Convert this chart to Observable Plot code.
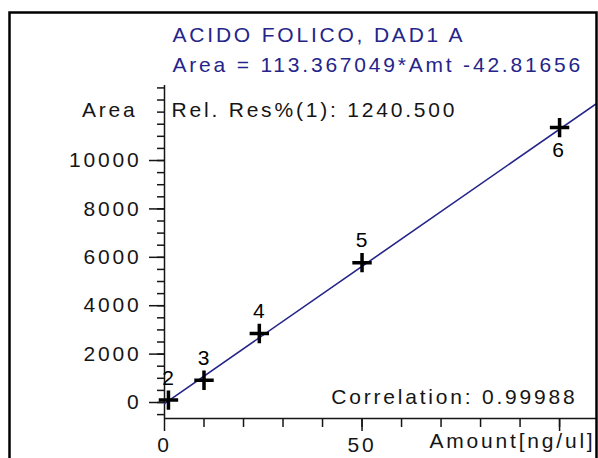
<!DOCTYPE html>
<html>
<head>
<meta charset="utf-8">
<script src="https://cdn.jsdelivr.net/npm/d3@7"></script>
<script src="https://cdn.jsdelivr.net/npm/@observablehq/plot@0.6"></script>
<style>
  html, body { margin: 0; padding: 0; background: #fff; }
  #chart { width: 598px; height: 458px; overflow: hidden; }
</style>
</head>
<body>
<div id="chart"></div>
<script>
// ---- data ----
const amounts = [1, 10, 24, 50, 100];          // Amount [ng/ul]
const areas = [100, 920, 2850, 5780, 11360];   // Area
const pointLabels = ["2", "3", "4", "5", "6"];
const yTickValues = [0, 2000, 4000, 6000, 8000, 10000];
const xTickValues = [0, 50, 100];
const xTickLabels = ["0", "50", ""];
const slope = 113.367049;
const intercept = -42.81656;
const titleLine1 = "ACIDO FOLICO, DAD1 A";
const titleLine2 = "Area = 113.367049*Amt -42.81656";
const relResText = "Rel. Res%(1): 1240.500";
const correlationText = "Correlation: 0.99988";
const xAxisTitle = "Amount[ng/ul]";
const yAxisTitle = "Area";

const xDomain = [0, 109.6];
const yDomain = [-661, 13100];

const points = amounts.map((a, i) => ({amount: a, area: areas[i], label: pointLabels[i]}));
const fitLine = xDomain.map(a => ({amount: a, area: slope * a + intercept}));
const lastLabel = pointLabels[pointLabels.length - 1];

const navy = "#24248a";
const ink = "#151515";
const fontStyle = {fontFamily: "'Liberation Sans', Arial, sans-serif", fontSize: 21};

const chart = Plot.plot({
  width: 598,
  height: 458,
  marginLeft: 164,
  marginRight: 1,
  marginTop: 85,
  marginBottom: 40,
  x: {domain: xDomain},
  y: {domain: yDomain},
  style: {fontFamily: "'Liberation Sans', Arial, sans-serif", fontSize: "21px", color: ink, background: "#fff", letterSpacing: "2.8px", overflow: "visible"},
  marks: [
    // minor ticks
    Plot.axisY(d3.range(-500, 13001, 500), {tickSize: 7, tickFormat: () => "", label: null, stroke: ink, strokeWidth: 1.5}),
    Plot.axisX(d3.range(10, 110, 10), {tickSize: 9, tickFormat: () => "", label: null, stroke: ink, strokeWidth: 1.5}),
    // major ticks with labels
    Plot.axisY(yTickValues, {tickSize: 15, tickPadding: 8, label: null, stroke: ink, strokeWidth: 1.5, tickFormat: d => String(d)}),
    Plot.axisX(xTickValues, {tickSize: 13, tickPadding: 6, label: null, stroke: ink, strokeWidth: 1.5, tickFormat: d => xTickLabels[xTickValues.indexOf(d)]}),
    // axis lines
    Plot.ruleX([xDomain[0]], {stroke: ink, strokeWidth: 1.5}),
    Plot.ruleY([yDomain[0]], {stroke: ink, strokeWidth: 1.5}),
    // calibration line
    Plot.line(fitLine, {x: "amount", y: "area", stroke: navy, strokeWidth: 1.6, clip: true}),
    // calibration points
    Plot.dot(points, {x: "amount", y: "area", symbol: "plus", r: 6.3, stroke: "#000", strokeWidth: 3.5}),
    Plot.text(points.filter(d => d.label !== lastLabel), {x: "amount", y: "area", text: "label", dy: -22, dx: 1, fill: "#000", ...fontStyle}),
    Plot.text(points.filter(d => d.label === lastLabel), {x: "amount", y: "area", text: "label", dy: 23, fill: "#000", ...fontStyle}),
    // annotations
    Plot.text([titleLine1], {frameAnchor: "top-left", dx: 8, dy: -58.5, textAnchor: "start", fill: navy, ...fontStyle}),
    Plot.text([titleLine2], {frameAnchor: "top-left", dx: 8, dy: -28.5, textAnchor: "start", fill: navy, ...fontStyle}),
    Plot.text([yAxisTitle], {frameAnchor: "top-left", dx: -27, dy: 16.5, textAnchor: "end", fill: ink, ...fontStyle}),
    Plot.text([relResText], {frameAnchor: "top-left", dx: 7, dy: 16.5, textAnchor: "start", fill: ink, ...fontStyle}),
    Plot.text([correlationText], {frameAnchor: "bottom-right", dx: -20, dy: -15, textAnchor: "end", fill: ink, ...fontStyle}),
    Plot.text([xAxisTitle], {frameAnchor: "bottom-right", dx: -2, dy: 29, textAnchor: "end", fill: ink, ...fontStyle})
  ]
});

// outer border of the original report panel
d3.select(chart).append("rect")
  .attr("x", 9.5).attr("y", 12.5)
  .attr("width", 587).attr("height", 520)
  .attr("fill", "none").attr("stroke", "#000").attr("stroke-width", 2.5);

document.getElementById("chart").appendChild(chart);
</script>
</body>
</html>
